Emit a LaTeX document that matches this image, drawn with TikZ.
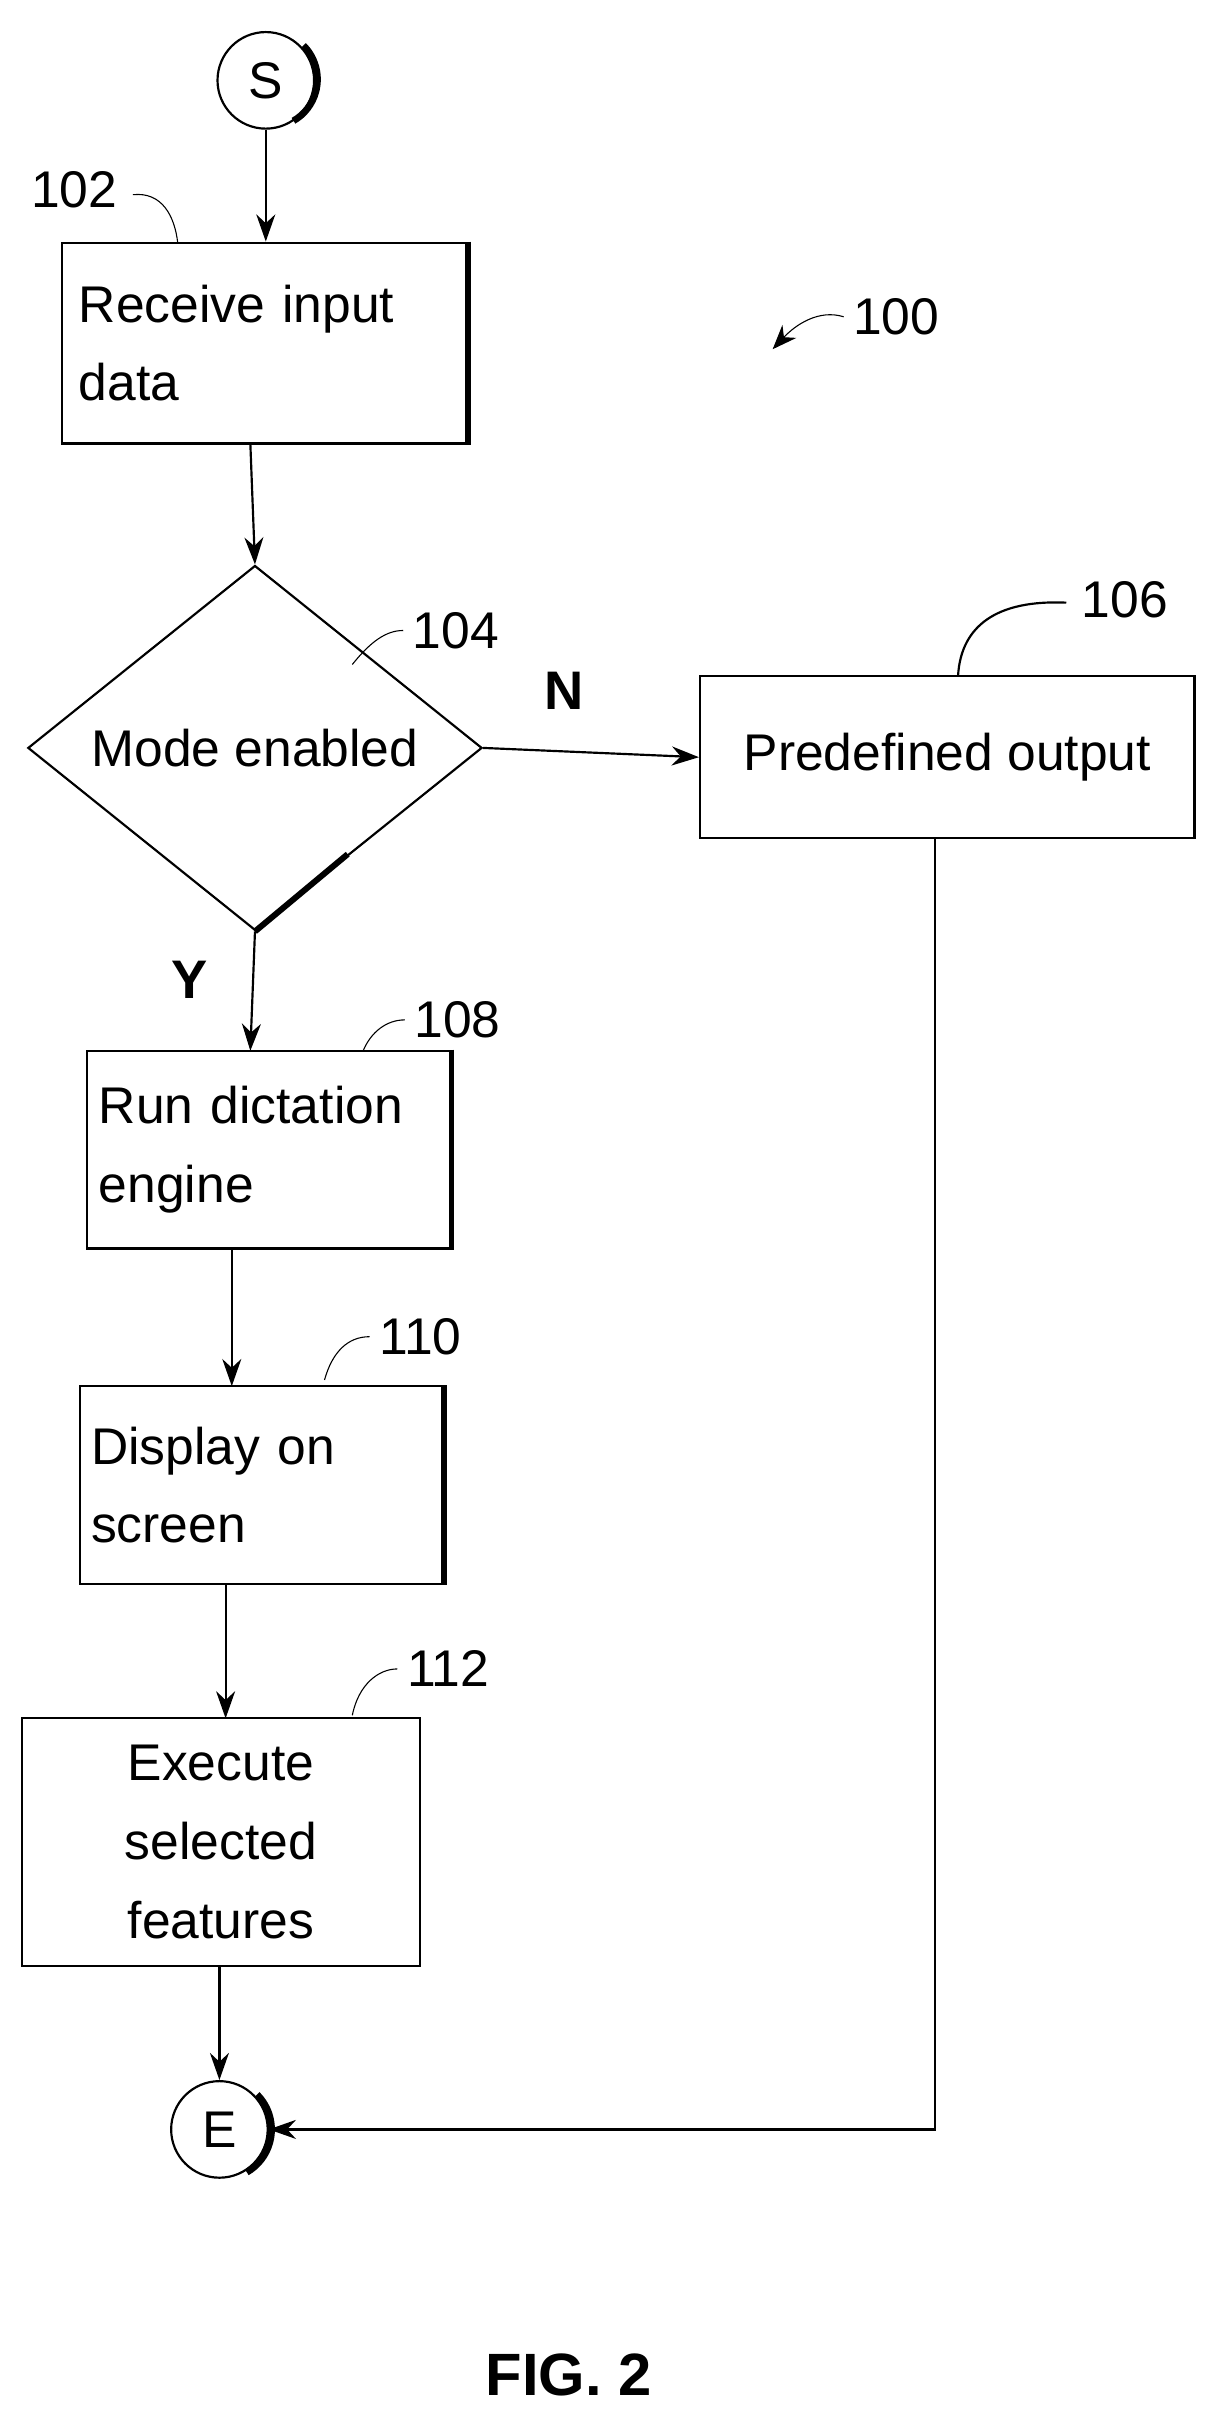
\documentclass[tikz,border=0pt]{standalone}
\usepackage{fontspec}
\setmainfont{Liberation Sans}
\usetikzlibrary{shapes.geometric,arrows.meta}
\begin{document}
\begin{tikzpicture}[x=0.02cm,y=-0.02cm,
box/.style={draw=black, thick, rectangle, inner sep=0pt, align=left, font=\fontsize{19}{29}\selectfont},
term/.style={draw=black, thick, circle, minimum size=1.25cm, inner sep=0pt, font=\fontsize{19}{23}\selectfont},
ref/.style={font=\fontsize{19}{23}\selectfont},
flow/.style={-{Stealth[length=10pt,width=7pt]}, thick},
lead/.style={thin}
]
\useasboundingbox (0,0) rectangle (795,1568);

% terminals
\node[term] (s) at (172,52) {S};
\node[term] (e) at (142,1378) {E};

% process boxes
\node[box, minimum width=5.24cm, minimum height=2.6cm, text width=4.8cm] (b102) at (171,222) {Receive input\\data};
\node[shape=diamond, draw=black, thick, minimum width=5.88cm, minimum height=4.24cm, inner sep=0pt, font=\fontsize{19}{23}\selectfont] (d104) at (165,484) {Mode enabled};
\node[box, minimum width=6.4cm, minimum height=2.1cm, align=center] (b106) at (613,490) {Predefined output};
\node[box, minimum width=4.7cm, minimum height=2.56cm, text width=4.4cm] (b108) at (174,744) {Run dictation\\engine};
\node[box, minimum width=4.7cm, minimum height=2.56cm, text width=4.4cm] (b110) at (169,961) {Display on\\screen};
\node[box, minimum width=5.16cm, minimum height=3.22cm, align=center] (b112) at (143,1192) {Execute\\selected\\features};

% shadow edges
\foreach \n in {b102,b108,b110}
  \draw[line width=2.2pt] (\n.north east) -- (\n.south east);
\draw[line width=2.5pt] ([xshift=1pt]s.north east) arc[start angle=45, end angle=-60, radius=0.62cm];
\draw[line width=2.5pt] ([xshift=1pt]e.north east) arc[start angle=45, end angle=-60, radius=0.64cm];
\draw[line width=2.2pt] (d104.south) -- ++(60,-50);

% connectors
\draw[flow] (s) -- (s |- b102.north);
\draw[flow] (162,287) -- (d104.north);
\draw[flow] (d104.east) -- (b106.west);
\draw[flow] (d104.south) -- (162,680);
\draw[flow] (150,808) -- (150,897);
\draw[flow] (146,1025) -- (146,1112);
\draw[flow] (b112.south -| e) -- (e.north);
\coordinate (turn) at (605,1378);
\draw[flow] (605,542) -- (turn) -- (e.east);

% branch labels
\node[font=\bfseries\fontsize{20}{24}\selectfont] (n) at (365,447) {N};
\node[font=\bfseries\fontsize{20}{24}\selectfont] (y) at (123,634) {Y};

% reference numerals
\node[ref] (r102) at (48,123) {102};
\draw[lead] (86,126) .. controls (105,124) and (113,140) .. (115,157);
\node[ref] (r104) at (295,408) {104};
\draw[lead] (r104.west) .. controls (250,408) and (240,415) .. (228,430);
\node[ref] (r106) at (728,388) {106};
\draw[lead,thick] (690,390) .. controls (645,388) and (622,405) .. (620,437);
\node[ref] (r108) at (296,660) {108};
\draw[lead] (r108.west) .. controls (250,660) and (240,668) .. (235,680);
\node[ref] (r110) at (272,865) {110};
\draw[lead] (r110.west) .. controls (225,865) and (215,875) .. (210,893);
\node[ref] (r112) at (290,1080) {112};
\draw[lead] (r112.west) .. controls (245,1080) and (232,1090) .. (228,1110);
\node[ref] (r100) at (580,205) {100};
\draw[-{Stealth[length=9pt,width=7pt]}, thin] (r100.west) .. controls (530,200) and (515,210) .. (500,226);

\node[font=\bfseries\fontsize{22}{26}\selectfont] (fig) at (368,1537) {FIG. 2};
\end{tikzpicture}
\end{document}
